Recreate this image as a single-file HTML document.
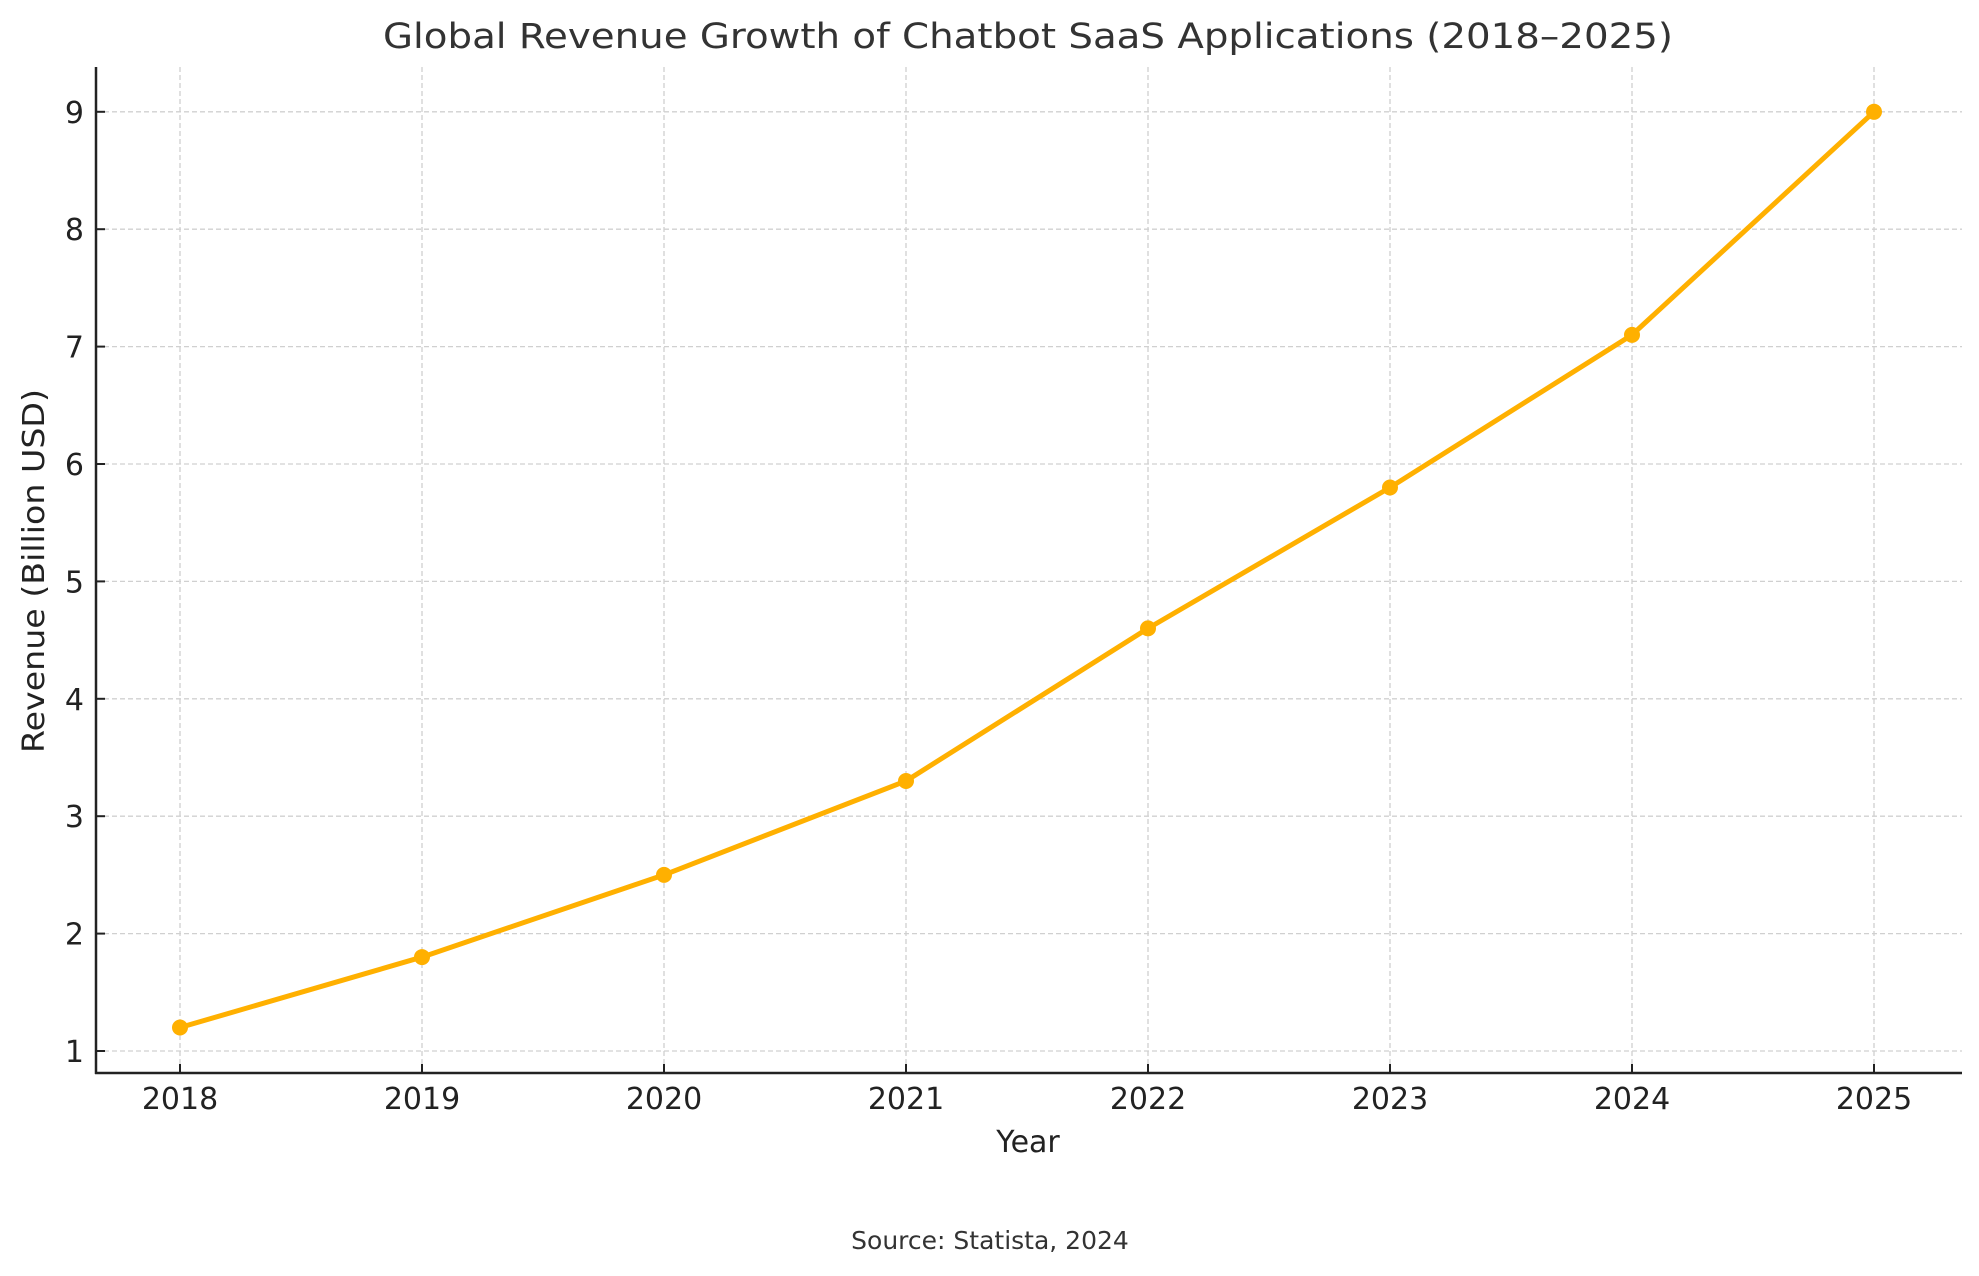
<!DOCTYPE html>
<html><head><meta charset="utf-8"><style>
html,body{margin:0;padding:0;background:#fff;}
svg{display:block;font-family:"DejaVu Sans","Liberation Sans",sans-serif;}
</style></head><body>
<svg id="chart" width="1979" height="1276" viewBox="0 0 1979 1276" xmlns="http://www.w3.org/2000/svg">
<rect width="1979" height="1276" fill="#fff"/>
<g id="grid"></g>
<g id="axes"></g>
<g id="series"></g>
<text x="1028" y="48" text-anchor="middle" font-size="35" fill="#333" textLength="1290" lengthAdjust="spacingAndGlyphs">Global Revenue Growth of Chatbot SaaS Applications (2018–2025)</text>
<text x="1028" y="1152" text-anchor="middle" font-size="30" fill="#222">Year</text>
<text transform="translate(44,571) rotate(-90)" text-anchor="middle" font-size="30" fill="#222" textLength="364" lengthAdjust="spacingAndGlyphs">Revenue (Billion USD)</text>
<text x="990" y="1249" text-anchor="middle" font-size="25" fill="#333">Source: Statista, 2024</text>
</svg>
<script>
const years = ["2018","2019","2020","2021","2022","2023","2024","2025"];
const revenue = [1.2, 1.8, 2.5, 3.3, 4.6, 5.8, 7.1, 9.0];
const yTicks = [1,2,3,4,5,6,7,8,9];

const NS = "http://www.w3.org/2000/svg";
const plotLeft = 96, plotRight = 1962, plotTop = 67, plotBottom = 1073;
const x0 = 180, xStep = 242;
function xPos(i){ return x0 + i * xStep; }
function yPos(v){ return 1051 - (v - 1) * 117.4; }
function mk(tag, attrs, parent){
  const e = document.createElementNS(NS, tag);
  for (const k in attrs) e.setAttribute(k, attrs[k]);
  parent.appendChild(e);
  return e;
}
const grid = document.getElementById('grid');
const axes = document.getElementById('axes');
const series = document.getElementById('series');

yTicks.forEach(t => {
  const y = yPos(t);
  const g = mk('line', {x1:plotLeft, x2:plotRight, y1:y, y2:y, stroke:'#d0d0d0', 'stroke-width':1.3, 'stroke-dasharray':'5,3'}, grid);
  
  
  const tk = mk('line', {x1:plotLeft, x2:plotLeft+9, y1:y, y2:y, stroke:'#222', 'stroke-width':2}, axes);
  
  
  const lb = mk('text', {x:84, y:y+11, 'text-anchor':'end', 'font-size':30, fill:'#222'}, axes);
  lb.textContent = t;
  
  
});
years.forEach((yr, i) => {
  const x = xPos(i);
  const g = mk('line', {x1:x, x2:x, y1:plotTop, y2:plotBottom, stroke:'#d0d0d0', 'stroke-width':1.3, 'stroke-dasharray':'5,3'}, grid);
  
  
  const tk = mk('line', {x1:x, x2:x, y1:plotBottom, y2:plotBottom-9, stroke:'#222', 'stroke-width':2}, axes);
  
  
  const lb = mk('text', {x:x, y:1109, 'text-anchor':'middle', 'font-size':30, fill:'#222'}, axes);
  lb.textContent = yr;
  
  
});
const ya = mk('line', {x1:plotLeft, x2:plotLeft, y1:plotTop, y2:plotBottom+1, stroke:'#222', 'stroke-width':2.5}, axes);


const xa = mk('line', {x1:plotLeft-1, x2:plotRight, y1:plotBottom, y2:plotBottom, stroke:'#222', 'stroke-width':2.5}, axes);



const pts = revenue.map((v, i) => xPos(i) + ',' + yPos(v)).join(' ');
const line = mk('polyline', {points:pts, fill:'none', stroke:'#FFB000', 'stroke-width':5, 'stroke-linejoin':'round'}, series);


revenue.forEach((v, i) => {
  const c = mk('circle', {cx:xPos(i), cy:yPos(v), r:8, fill:'#FFB000'}, series);
  
  
});
</script>
</body></html>
